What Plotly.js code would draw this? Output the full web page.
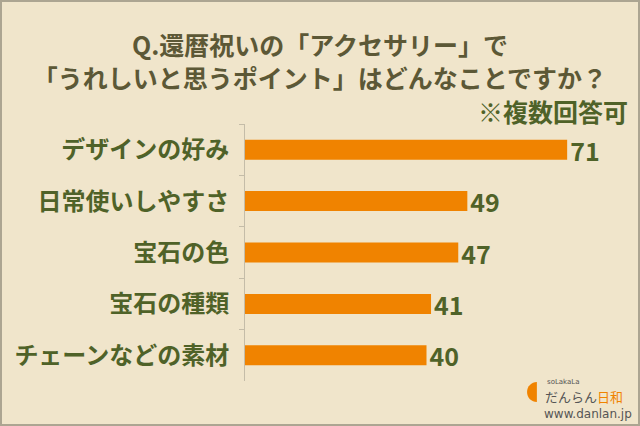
<!DOCTYPE html>
<html>
<head>
<meta charset="utf-8">
<script src="https://cdn.plot.ly/plotly-3.0.1.min.js"></script>
<style>
  html, body { margin: 0; padding: 0; background: #F0E5CB; }
  #wrap { position: relative; width: 640px; height: 426px; }
  #chart { width: 640px; height: 426px; }
  #frame { position: absolute; left: 0; top: 0; width: 640px; height: 426px; box-sizing: border-box;
           border: 2px solid #ACA592; pointer-events: none; }
</style>
</head>
<body>
<div id="wrap">
  <div id="chart"></div>
  <div id="frame"></div>
</div>
<script>
const categories = ["デザインの好み", "日常使いしやすさ", "宝石の色", "宝石の種類", "チェーンなどの素材"];
const values = [71, 49, 47, 41, 40];
const titleText = "Q.還暦祝いの「アクセサリー」で<br>「うれしいと思うポイント」はどんなことですか？";
const noteText = "※複数回答可";

const font = '"Noto Sans CJK JP", "Noto Sans", sans-serif';
const green = "#4F6228";
const titleColor = "#5C5836";
const orange = "#F08300";

const trace = {
  type: "bar",
  orientation: "h",
  x: values,
  y: categories,
  marker: { color: orange },
  text: values.map(String),
  textposition: "outside",
  constraintext: "none",
  cliponaxis: false,
  outsidetextfont: { family: font, size: 25, color: green, weight: "bold" },
  hoverinfo: "skip"
};

const layout = {
  width: 640,
  height: 426,
  paper_bgcolor: "#F0E5CB",
  plot_bgcolor: "rgba(0,0,0,0)",
  margin: { l: 245, r: 32, t: 124, b: 45 },
  bargap: 0.61,
  showlegend: false,
  title: {
    text: titleText,
    font: { family: font, size: 25, color: titleColor, weight: "bold" },
    x: 0.5, xref: "container", xanchor: "center",
    y: 0.87, yref: "container", yanchor: "top"
  },
  xaxis: {
    range: [0, 80],
    visible: false,
    fixedrange: true
  },
  yaxis: {
    autorange: "reversed",
    showline: true,
    linecolor: "#C4BCA8",
    linewidth: 1,
    ticks: "outside",
    tickson: "boundaries",
    ticklen: 5,
    tickcolor: "#C4BCA8",
    ticklabelstandoff: 10,
    tickfont: { family: font, size: 24, color: green, weight: "bold" },
    showgrid: false,
    zeroline: false,
    fixedrange: true
  },
  annotations: [
    {
      text: noteText, xref: "paper", yref: "paper", x: 1.06, y: 1.0, xanchor: "right", yanchor: "bottom",
      yshift: -7, showarrow: false,
      font: { family: font, size: 25, color: green, weight: "bold" }
    },
    {
      text: "soLakaLa", xref: "paper", yref: "paper", x: 0.826, y: -0.004, xanchor: "left", yanchor: "middle",
      showarrow: false, font: { family: "DejaVu Sans, sans-serif", size: 7, color: "#555555" }
    },
    {
      text: "だんらん<span style=\"color:#F08300\">日和</span>", xref: "paper", yref: "paper", x: 0.822, y: -0.062,
      xanchor: "left", yanchor: "middle", showarrow: false,
      font: { family: font, size: 13, color: "#555555" }
    },
    {
      text: "www.danlan.jp", xref: "paper", yref: "paper", x: 1.072, y: -0.128, xanchor: "right", yanchor: "middle",
      showarrow: false, font: { family: "DejaVu Sans, sans-serif", size: 12, color: "#555555" }
    }
  ],
  shapes: [
    {
      type: "path", xref: "paper", yref: "paper",
      path: "M 0.804 -0.004 C 0.789 -0.004 0.777 -0.021 0.777 -0.043 C 0.777 -0.065 0.789 -0.082 0.804 -0.082 Z",
      fillcolor: orange, line: { width: 0 }
    }
  ]
};

Plotly.newPlot("chart", [trace], layout, { staticPlot: true, displayModeBar: false });
</script>
</body>
</html>
